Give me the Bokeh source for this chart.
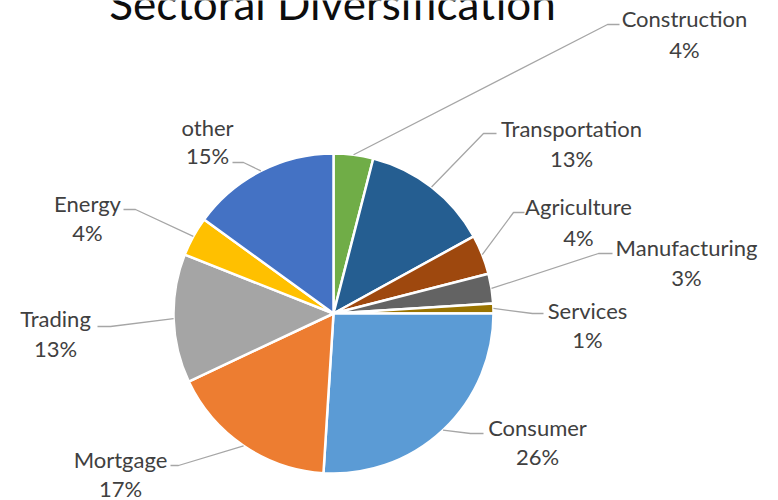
import math
from bokeh.plotting import figure
from bokeh.models import ColumnDataSource, Range1d
from bokeh.embed import file_html
from bokeh.resources import INLINE
from bokeh.core.properties import value

# ---- data ----
sectors = ["Construction", "Transportation", "Agriculture", "Manufacturing", "Services",
           "Consumer", "Mortgage", "Trading", "Energy", "other"]
shares = [4, 13, 4, 3, 1, 26, 17, 13, 4, 15]
title_text = "Sectoral Diversification"

# ---- styles / layout ----
colors = ["#70AD47", "#255E91", "#9E480E", "#636363", "#997300",
          "#5B9BD5", "#ED7D31", "#A5A5A5", "#FFC000", "#4472C4"]
W, H = 778, 500
def X(sx): return sx
def Y(sy): return H - sy

CX, CY, R = 333, 313, 160  # screen coords
# label centres (screen): name line, percent line
label_pos = [(684, 18, 49), (571, 128, 158), (578, 206, 237), (686, 247, 277), (587, 310, 339),
             (537, 427, 456), (120, 459, 488), (55, 318, 348), (87, 203, 232), (207, 127, 155)]
# leader elbow and end (screen)
leader_pts = [((607, 24), (619, 24)), ((483, 133), (496, 133)), ((513, 212), (524, 212)),
              ((598, 253), (612, 253)), ((532, 313), (543, 313)), ((470, 433), (483, 433)),
              ((178, 465), (170, 465)), ((110, 326), (97, 326)), ((135, 209), (123, 209)),
              ((243, 162), (232, 162))]

total = float(sum(shares))
starts, ends, mids = [], [], []
cum = 0.0
for s in shares:
    a0 = math.pi / 2 - 2 * math.pi * cum / total
    cum += s
    a1 = math.pi / 2 - 2 * math.pi * cum / total
    starts.append(a0); ends.append(a1); mids.append((a0 + a1) / 2)

p = figure(width=W, height=H, output_backend="svg", toolbar_location=None,
           x_range=Range1d(0, W), y_range=Range1d(0, H),
           x_axis_type=None, y_axis_type=None, min_border=0)
p.grid.visible = False
p.outline_line_color = None
p.background_fill_color = "white"

src = ColumnDataSource(dict(start=starts, end=ends, color=colors, name=sectors))
p.wedge(x=X(CX), y=Y(CY), radius=R, radius_units="screen", start_angle="start", end_angle="end",
        direction="clock", fill_color="color", line_color="white", line_width=2.5, source=src)

xs, ys = [], []
for m, (elbow, end) in zip(mids, leader_pts):
    ex = CX + R * math.cos(m)
    ey = CY - R * math.sin(m)
    xs.append([X(ex), X(elbow[0]), X(end[0])])
    ys.append([Y(ey), Y(elbow[1]), Y(end[1])])
p.multi_line(xs, ys, line_color="#a6a6a6", line_width=1.3)

pct = [f"{round(100 * s / total)}%" for s in shares]
p.text(x=[X(l[0]) for l in label_pos], y=[Y(l[1]) for l in label_pos], text=sectors,
       text_align="center", text_baseline="middle", text_font=value("Lato"),
       text_font_size="22px", text_color="#404040")
p.text(x=[X(l[0]) for l in label_pos], y=[Y(l[2]) for l in label_pos], text=pct,
       text_align="center", text_baseline="middle", text_font=value("Lato"),
       text_font_size="22px", text_color="#404040")

p.text(x=[X(332)], y=[Y(2)], text=[title_text], text_align="center", text_baseline="alphabetic",
       text_font=value("Lato"), text_font_size="44px", text_color="#0d0d0d")

open("out.html", "w").write(file_html(p, INLINE))
